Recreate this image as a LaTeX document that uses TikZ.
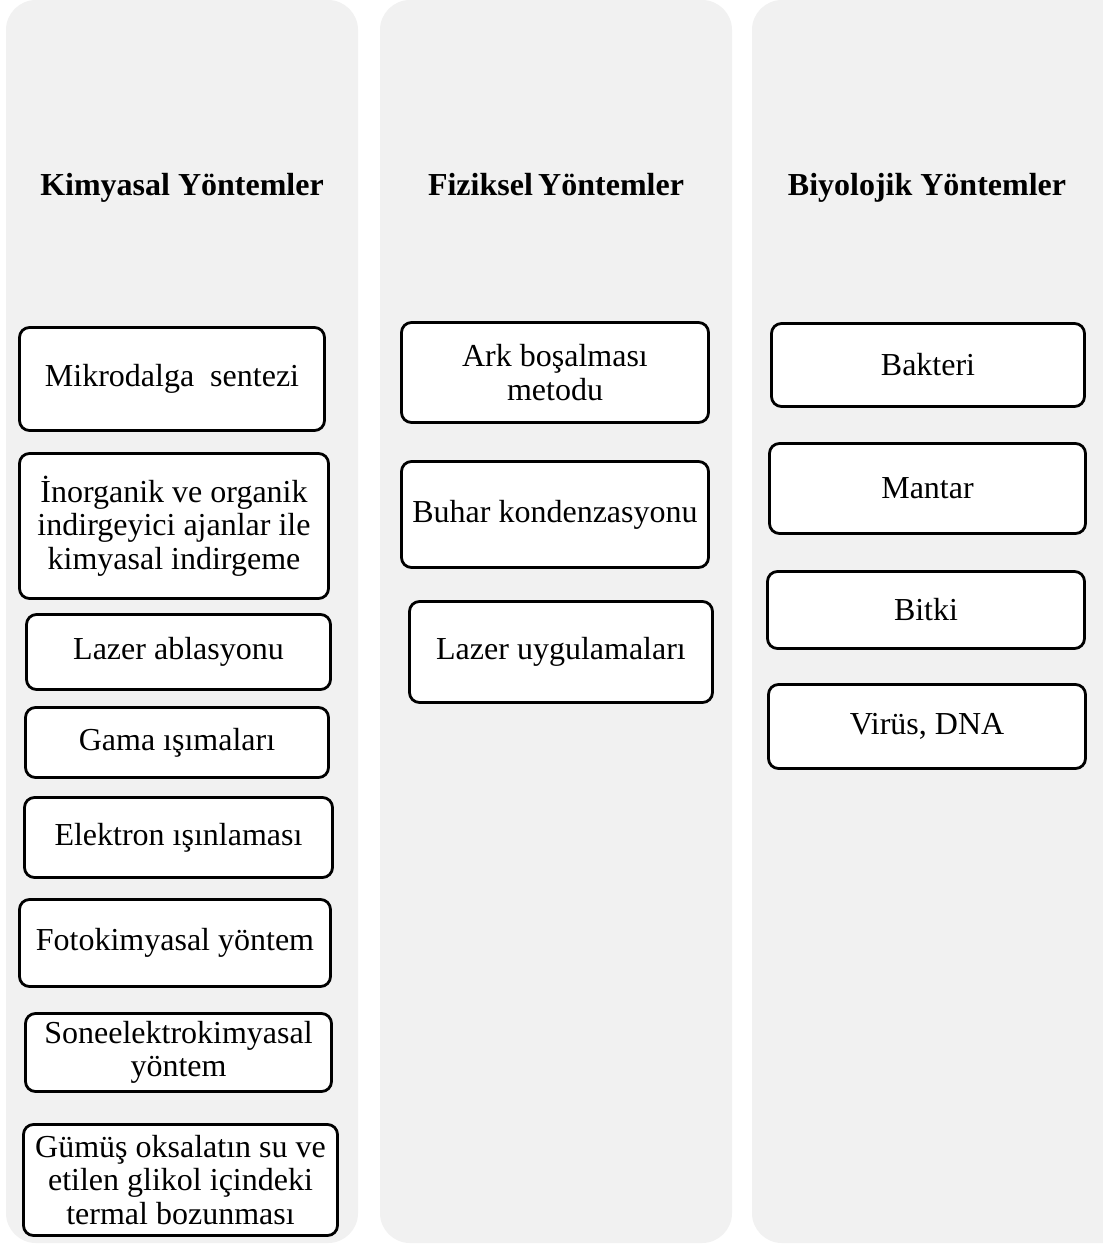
\documentclass[tikz,border=0pt]{standalone}
\usepackage{fontspec}
\setmainfont{Liberation Serif}
\definecolor{colgray}{RGB}{241,241,241}
\tikzset{
  column/.style={fill=colgray, draw=none, rounded corners=30pt},
  itembox/.style={draw=black, line width=2.8pt, fill=white, rounded corners=10pt,
    align=center, inner sep=0pt, font=\fontsize{32}{33.5}\selectfont},
  coltitle/.style={font=\fontsize{32}{34}\selectfont\bfseries, inner sep=0pt, anchor=base}
}
\begin{document}
\begin{tikzpicture}[x=1pt,y=-1pt]
\useasboundingbox (0,0) rectangle (1103,1245);
\fill[white] (0,0) rectangle (1103,1245);
% columns
\path[column] (6,0) rectangle (358,1243);
\path[column] (380,0) rectangle (732,1243);
\path[column] (752,0) rectangle (1133,1243);
\fill[white] (1103,-5) rectangle (1140,1250);
% titles
\node[coltitle] (t1) at (182,195) {Kimyasal Yöntemler};
\node[coltitle] (t2) at (556,195) {Fiziksel\,Yöntemler};
\node[coltitle] (t3) at (927,195) {Biyolojik Yöntemler};
% column 1
\node[itembox, minimum width=305pt, minimum height=103pt] (m1) at (172,379) {Mikrodalga\ \ sentezi};
\node[itembox, minimum width=309pt, minimum height=145pt] (m2) at (174,526) {İnorganik ve organik\\indirgeyici ajanlar ile\\kimyasal indirgeme};
\node[itembox, minimum width=304pt, minimum height=75pt] (m3) at (178.5,652) {Lazer ablasyonu};
\node[itembox, minimum width=303pt, minimum height=70pt] (m4) at (177,742.5) {Gama ışımaları};
\node[itembox, minimum width=308pt, minimum height=80pt] (m5) at (178.5,837.5) {Elektron ışınlaması};
\node[itembox, minimum width=311pt, minimum height=87pt] (m6) at (175,943) {Fotokimyasal yöntem};
\node[itembox, minimum width=306pt, minimum height=78pt] (m7) at (178.5,1052.5) {Soneelektrokimyasal\\yöntem};
\node[itembox, minimum width=314pt, minimum height=111pt] (m8) at (180.5,1180) {Gümüş oksalatın su ve\\etilen glikol içindeki\\termal bozunması};
% column 2
\node[itembox, minimum width=307pt, minimum height=100pt] (f1) at (555,372.5) {Ark boşalması\\metodu};
\node[itembox, minimum width=307pt, minimum height=106pt] (f2) at (555,514.5) {Buhar kondenzasyonu};
\node[itembox, minimum width=303pt, minimum height=101pt] (f3) at (561,652) {Lazer uygulamaları};
% column 3
\node[itembox, minimum width=313pt, minimum height=83pt] (b1) at (928,365) {Bakteri};
\node[itembox, minimum width=316pt, minimum height=90pt] (b2) at (927.5,488.5) {Mantar};
\node[itembox, minimum width=317pt, minimum height=77pt] (b3) at (926,610) {Bitki};
\node[itembox, minimum width=317pt, minimum height=84pt] (b4) at (927,726.5) {Virüs, DNA};
\end{tikzpicture}
\end{document}
